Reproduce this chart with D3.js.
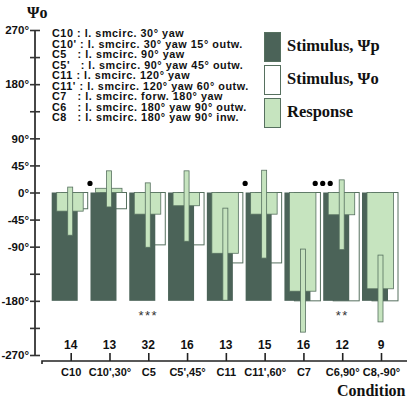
<!DOCTYPE html>
<html>
<head>
<meta charset="utf-8">
<script src="https://cdn.jsdelivr.net/npm/d3@7"></script>
<style>
  body { margin: 0; background: #fff; }
  svg { font-family: "Liberation Sans", Arial, sans-serif; font-weight: bold; }
  .serif { font-family: "Liberation Serif", "Times New Roman", serif; font-weight: bold; }
  .pre { white-space: pre; }
</style>
</head>
<body>
<div id="chart"></div>
<script>
// categories and counts
const categories = ["C10", "C10',30°", "C5", "C5',45°", "C11", "C11',60°", "C7", "C6,90°", "C8,-90°"];
const counts = [14, 13, 32, 16, 13, 15, 16, 12, 9];

// stimulus psi_p (dark), stimulus psi_o (white), response mean + spread (green)
const stimP = [-180, -180, -180, -180, -180, -180, -180, -180, -180];
const stimO = [-27, -27, -87, -87, -117, -117, -180, -180, -180];
const response = [-31, 7, -36, -22, -101, -36, -164, -37, -160];
const respHigh = [9, 36, 16, 36, -26, 37, -94, 21, -104];
const respLow = [-71, -24, -91, -81, -179, -109, -232, -95, -215];

// significance marks
const dotMarks = [{ cat: "C10',30°", n: 1 }, { cat: "C11',60°", n: 1 }, { cat: "C6,90°", n: 3 }];
const starMarks = [{ cat: "C5", text: "***" }, { cat: "C6,90°", text: "**" }];

const yTicks = [270, 225, 180, 135, 90, 45, 0, -45, -90, -135, -180, -225, -270];
const yLabelled = [270, 180, 90, 45, 0, -45, -90, -180, -270];

const conditionText = [
  "C10 : l. smcirc. 30° yaw",
  "C10' : l. smcirc. 30° yaw 15° outw.",
  "C5   : l. smcirc. 90° yaw",
  "C5'   : l. smcirc. 90° yaw 45° outw.",
  "C11 : l. smcirc. 120° yaw",
  "C11' : l. smcirc. 120° yaw 60° outw.",
  "C7   : l. smcirc. forw. 180° yaw",
  "C6   : l. smcirc. 180° yaw 90° outw.",
  "C8   : l. smcirc. 180° yaw 90° inw."
];
const legendItems = [
  { label: "Stimulus, Ψp", fill: "#4b6358" },
  { label: "Stimulus, Ψo", fill: "#ffffff" },
  { label: "Response", fill: "#c6e4bf" }
];

const dark = "#4b6358", light = "#c6e4bf", edge = "#56705f";

const svg = d3.select("#chart").append("svg")
  .attr("width", 407)
  .attr("height", 407);

const y = d3.scaleLinear().domain([-270, 270]).range([355, 30]);
const x = d3.scalePoint().domain(categories).range([70.7, 381]);

// Y axis
const yAxis = svg.append("g")
  .attr("transform", "translate(35,0)")
  .call(d3.axisLeft(y).tickValues(yTicks).tickSize(5).tickPadding(1)
    .tickFormat(d => yLabelled.includes(d) ? d + "°" : ""));
yAxis.select(".domain").remove();
yAxis.selectAll(".tick line").attr("x1", 5).attr("stroke", "#333").attr("stroke-width", 1.6);
yAxis.selectAll(".tick text").attr("font-size", 11.5).attr("font-family", null).attr("fill", "#111");
yAxis.append("line")
  .attr("y1", y(270)).attr("y2", y(-270))
  .attr("stroke", "#333").attr("stroke-width", 1.8);

svg.append("text").attr("class", "serif")
  .attr("x", 27).attr("y", 18)
  .attr("font-size", 16).attr("fill", "#111")
  .text("Ψo");

// X axis
const xAxis = svg.append("g")
  .attr("transform", "translate(0,361)")
  .call(d3.axisBottom(x).tickSizeInner(-8).tickSizeOuter(0).tickPadding(7));
xAxis.select(".domain").remove();
xAxis.selectAll(".tick line").attr("stroke", "#222").attr("stroke-width", 1.6);
xAxis.selectAll(".tick text").attr("font-size", 11).attr("font-family", null).attr("fill", "#111");
xAxis.append("path")
  .attr("d", "M42,3V0H407")
  .attr("fill", "none").attr("stroke", "#222").attr("stroke-width", 1.6);

// N counts
svg.append("g").selectAll("text")
  .data(counts)
  .join("text")
  .attr("x", (d, i) => x(categories[i]))
  .attr("y", 349)
  .attr("text-anchor", "middle")
  .attr("font-size", 12)
  .attr("fill", "#111")
  .text(d => d);

svg.append("text").attr("class", "serif")
  .attr("x", 337).attr("y", 396)
  .attr("font-size", 16).attr("fill", "#111")
  .text("Condition");

// bars
const bw = 26;
const bars = svg.append("g");
bars.selectAll(".o")
  .data(stimO)
  .join("rect")
  .attr("x", (d, i) => x(categories[i]) - 9)
  .attr("y", y(0))
  .attr("width", bw)
  .attr("height", d => y(d) - y(0))
  .attr("fill", "#fff").attr("stroke", edge).attr("stroke-width", 1);

bars.selectAll(".p")
  .data(stimP)
  .join("rect")
  .attr("x", (d, i) => x(categories[i]) - 19)
  .attr("y", y(0))
  .attr("width", bw)
  .attr("height", d => y(d) - y(0))
  .attr("fill", dark);

bars.selectAll(".r")
  .data(response)
  .join("rect")
  .attr("x", (d, i) => x(categories[i]) - 14)
  .attr("y", d => Math.min(y(d), y(0)))
  .attr("width", bw + 0.5)
  .attr("height", d => Math.abs(y(d) - y(0)))
  .attr("fill", light).attr("stroke", edge).attr("stroke-width", 0.8);

bars.selectAll(".e")
  .data(respHigh)
  .join("rect")
  .attr("x", (d, i) => x(categories[i]) - 3)
  .attr("y", d => y(d))
  .attr("width", 5)
  .attr("height", (d, i) => y(respLow[i]) - y(d))
  .attr("fill", light).attr("stroke", edge).attr("stroke-width", 0.8);

// significance dots
dotMarks.forEach(m => {
  const cx = x(m.cat) - 19.5;
  d3.range(m.n).forEach(k => {
    svg.append("circle")
      .attr("cx", m.n === 1 ? cx : cx - 7.5 + k * 7.5)
      .attr("cy", y(15))
      .attr("r", 2.6)
      .attr("fill", "#000");
  });
});

svg.append("g").selectAll("text")
  .data(starMarks)
  .join("text")
  .attr("x", d => x(d.cat))
  .attr("y", y(-212))
  .attr("text-anchor", "middle")
  .attr("font-size", 13)
  .attr("font-weight", "normal")
  .attr("letter-spacing", 1.5)
  .attr("fill", "#333")
  .text(d => d.text);

// condition descriptions
svg.append("g").selectAll("text")
  .data(conditionText)
  .join("text")
  .attr("class", "pre")
  .attr("x", 52)
  .attr("y", (d, i) => 37 + i * 10.5)
  .attr("font-size", 10.8)
  .attr("letter-spacing", 0.55)
  .attr("fill", "#111")
  .text(d => d);

// legend
const legend = svg.append("g");
legendItems.forEach((d, i) => {
  legend.append("rect")
    .attr("x", 264.5).attr("y", 32.5 + i * 33)
    .attr("width", 16).attr("height", 29)
    .attr("fill", d.fill).attr("stroke", edge).attr("stroke-width", 1);
  legend.append("text").attr("class", "serif")
    .attr("x", 287).attr("y", 51 + i * 33)
    .attr("font-size", 16.5).attr("fill", "#111")
    .text(d.label);
});
</script>
</body>
</html>
